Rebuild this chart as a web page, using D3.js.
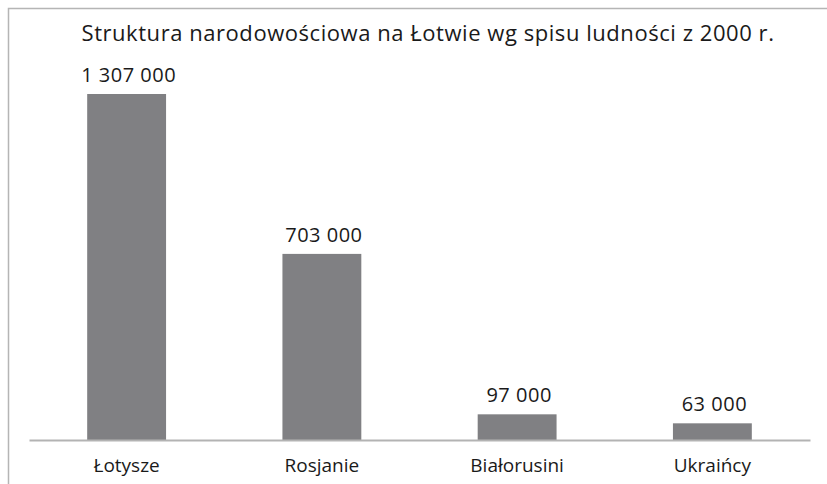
<!DOCTYPE html>
<html>
<head>
<meta charset="utf-8">
<script src="https://cdn.jsdelivr.net/npm/d3@7"></script>
<style>
  body { margin: 0; background: #fff; }
  svg text { font-family: "Open Sans", Lato, sans-serif; fill: #1a1a1a; }
</style>
</head>
<body>
<div id="chart"></div>
<script>
// data
var categories = ["Łotysze", "Rosjanie", "Białorusini", "Ukraińcy"];
var values = [1307000, 703000, 97000, 63000];
var valueLabels = ["1 307 000", "703 000", "97 000", "63 000"];
var title = "Struktura narodowościowa na Łotwie wg spisu ludności z 2000 r.";

var W = 827, H = 484;
var svg = d3.select("#chart").append("svg")
  .attr("width", W)
  .attr("height", H);

// outer frame (runs past the right and bottom edge of the picture)
svg.append("rect")
  .attr("x", 8.5).attr("y", 8.5)
  .attr("width", 840).attr("height", 500)
  .attr("fill", "none")
  .attr("stroke", "#b5b5b5")
  .attr("stroke-width", 1.5);

var x = d3.scaleBand()
  .domain(categories)
  .range([29, 810])
  .paddingInner(0.596)
  .paddingOuter(0.298);

var y = d3.scaleLinear()
  .domain([0, 1307000])
  .range([440, 94]);

var data = categories.map(function (c, i) {
  return { cat: c, val: values[i], lab: valueLabels[i] };
});

svg.selectAll("rect.bar")
  .data(data)
  .enter().append("rect")
  .attr("class", "bar")
  .attr("x", function (d) { return x(d.cat); })
  .attr("y", function (d) { return y(d.val); })
  .attr("width", x.bandwidth())
  .attr("height", function (d) { return y(0) - y(d.val); })
  .attr("fill", "#808083");

// baseline
var xAxis = d3.axisBottom(x).tickSize(0).tickPadding(19);
var gx = svg.append("g")
  .attr("transform", "translate(0," + y(0) + ")")
  .call(xAxis);
gx.select(".domain").attr("stroke", "#b3b3b3").attr("stroke-width", 2);
gx.selectAll(".tick text")
  .attr("font-size", 19)
  .attr("fill", "#1a1a1a")
  .style("font-family", "'Open Sans', Lato, sans-serif");

svg.selectAll("text.val")
  .data(data)
  .enter().append("text")
  .attr("class", "val")
  .attr("x", function (d) { return x(d.cat) + x.bandwidth() / 2 + 2; })
  .attr("y", function (d) { return y(d.val) - 12; })
  .attr("text-anchor", "middle")
  .attr("font-size", 20)
  .attr("letter-spacing", 0.5)
  .text(function (d) { return d.lab; });

svg.append("text")
  .attr("x", 428)
  .attr("y", 41)
  .attr("text-anchor", "middle")
  .attr("font-size", 22)
  .attr("letter-spacing", 0.55)
  .text(title);
</script>
</body>
</html>
